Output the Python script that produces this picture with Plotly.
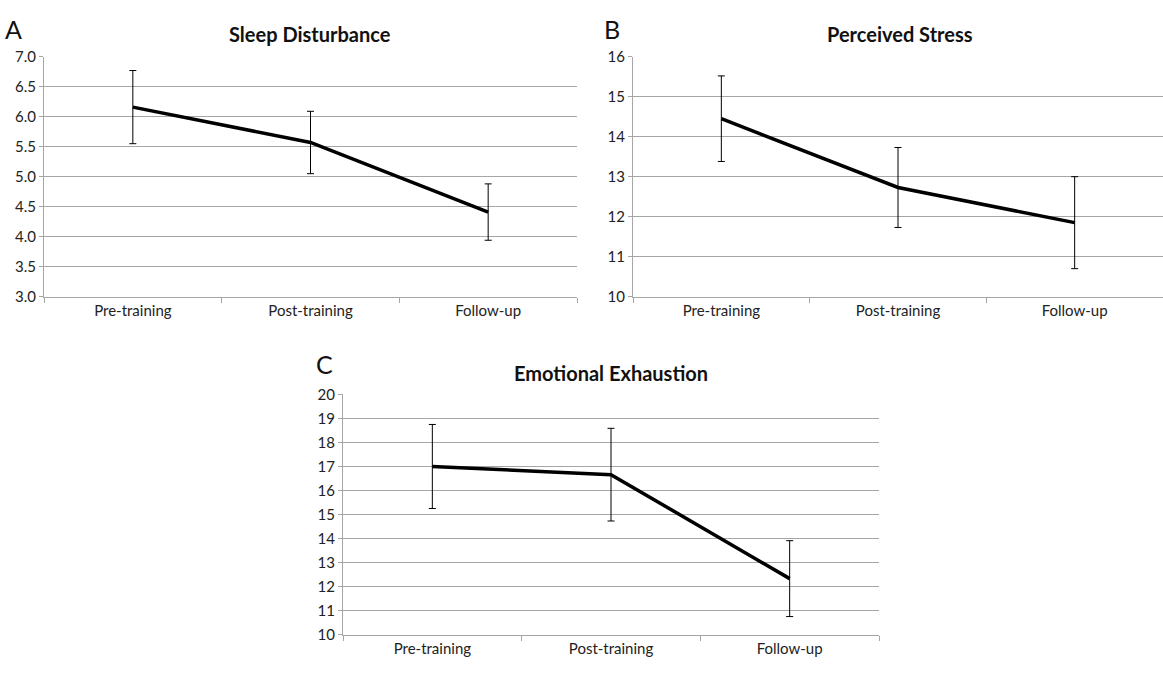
import plotly.graph_objects as go

categories = ["Pre-training", "Post-training", "Follow-up"]

sleep_mean = [6.16, 5.57, 4.41]
sleep_err = [0.61, 0.52, 0.47]

stress_mean = [14.45, 12.73, 11.85]
stress_err = [1.07, 1.00, 1.15]

exhaust_mean = [17.00, 16.66, 12.33]
exhaust_err = [1.75, 1.93, 1.58]

panel_titles = ["Sleep Disturbance", "Perceived Stress", "Emotional Exhaustion"]
panel_letters = ["A", "B", "C"]
y_ranges = [(3.0, 7.0, 0.5), (10, 16, 1), (10, 20, 1)]
y_fmt = [".1f", "d", "d"]

FONT = "Lato"
GRID = "#a6a6a6"

xpos = [i + 0.5 for i in range(len(categories))]
bounds = [float(i) for i in range(len(categories) + 1)]

fig = go.Figure()

series = [sleep_mean, stress_mean, exhaust_mean]
errors = [sleep_err, stress_err, exhaust_err]
domains_x = [(44 / 1163, 577 / 1163), (633 / 1163, 1.0), (343 / 1163, 879 / 1163)]
domains_y = [(1 - 294.5 / 674, 1 - 48 / 674), (1 - 294.5 / 674, 1 - 48 / 674), (1 - 641.7 / 674, 1 - 395 / 674)]

for k in range(3):
    xa = "x" if k == 0 else f"x{k+1}"
    ya = "y" if k == 0 else f"y{k+1}"
    fig.add_trace(go.Scatter(
        x=xpos, y=series[k], mode="lines",
        line=dict(color="#000000", width=3.5),
        error_y=dict(type="data", array=errors[k], visible=True,
                     color="#000000", thickness=1, width=3.5),
        xaxis=xa, yaxis=ya, showlegend=False, hoverinfo="skip",
    ))
    lo, hi, step = y_ranges[k]
    n = int(round((hi - lo) / step))
    tv = [lo + i * step for i in range(n + 1)]
    xkey = "xaxis" if k == 0 else f"xaxis{k+1}"
    ykey = "yaxis" if k == 0 else f"yaxis{k+1}"
    fig.update_layout(**{
        xkey: dict(
            domain=list(domains_x[k]), anchor=ya, range=[0, len(categories)],
            tickvals=xpos, ticktext=categories, ticks="", showgrid=False,
            showline=True, linecolor=GRID, linewidth=1, zeroline=False,
            tickfont=dict(family=FONT, size=15, color="#222222"),
            minor=dict(tickvals=bounds, ticks="outside", ticklen=5,
                       tickcolor=GRID, tickwidth=1, showgrid=False),
            fixedrange=True,
        ),
        ykey: dict(
            domain=list(domains_y[k]), anchor=xa, range=[lo, hi],
            tickvals=tv, tickformat=y_fmt[k], ticks="outside", ticklen=4,
            tickcolor=GRID, showgrid=True, gridcolor=GRID, gridwidth=1,
            showline=True, linecolor=GRID, linewidth=1, zeroline=False,
            tickfont=dict(family=FONT, size=15, color="#222222"),
            fixedrange=True,
        ),
    })

annotations = []
title_pos = [(310, 25), (900, 25), (611, 373)]
letter_pos = [(13, 20), (612, 20), (324, 364)]
for k in range(3):
    tx, ty = title_pos[k]
    annotations.append(dict(
        text=f"<b>{panel_titles[k]}</b>", x=tx / 1163, y=1 - ty / 674,
        xref="paper", yref="paper", showarrow=False, xanchor="center", yanchor="middle",
        font=dict(family=FONT, size=20, color="#111111"),
    ))
    lx, ly = letter_pos[k]
    annotations.append(dict(
        text=panel_letters[k], x=lx / 1163, y=1 - ly / 674,
        xref="paper", yref="paper", showarrow=False, xanchor="center", yanchor="middle",
        font=dict(family=FONT, size=25, color="#111111"),
    ))

fig.update_layout(
    width=1163, height=674, margin=dict(l=0, r=0, t=0, b=0),
    paper_bgcolor="white", plot_bgcolor="white",
    annotations=annotations, showlegend=False,
)

fig.write_html(
    "out.html",
    config={"displayModeBar": False, "staticPlot": True},
    post_script="document.body.style.margin='0px';document.body.style.overflow='hidden';",
)
